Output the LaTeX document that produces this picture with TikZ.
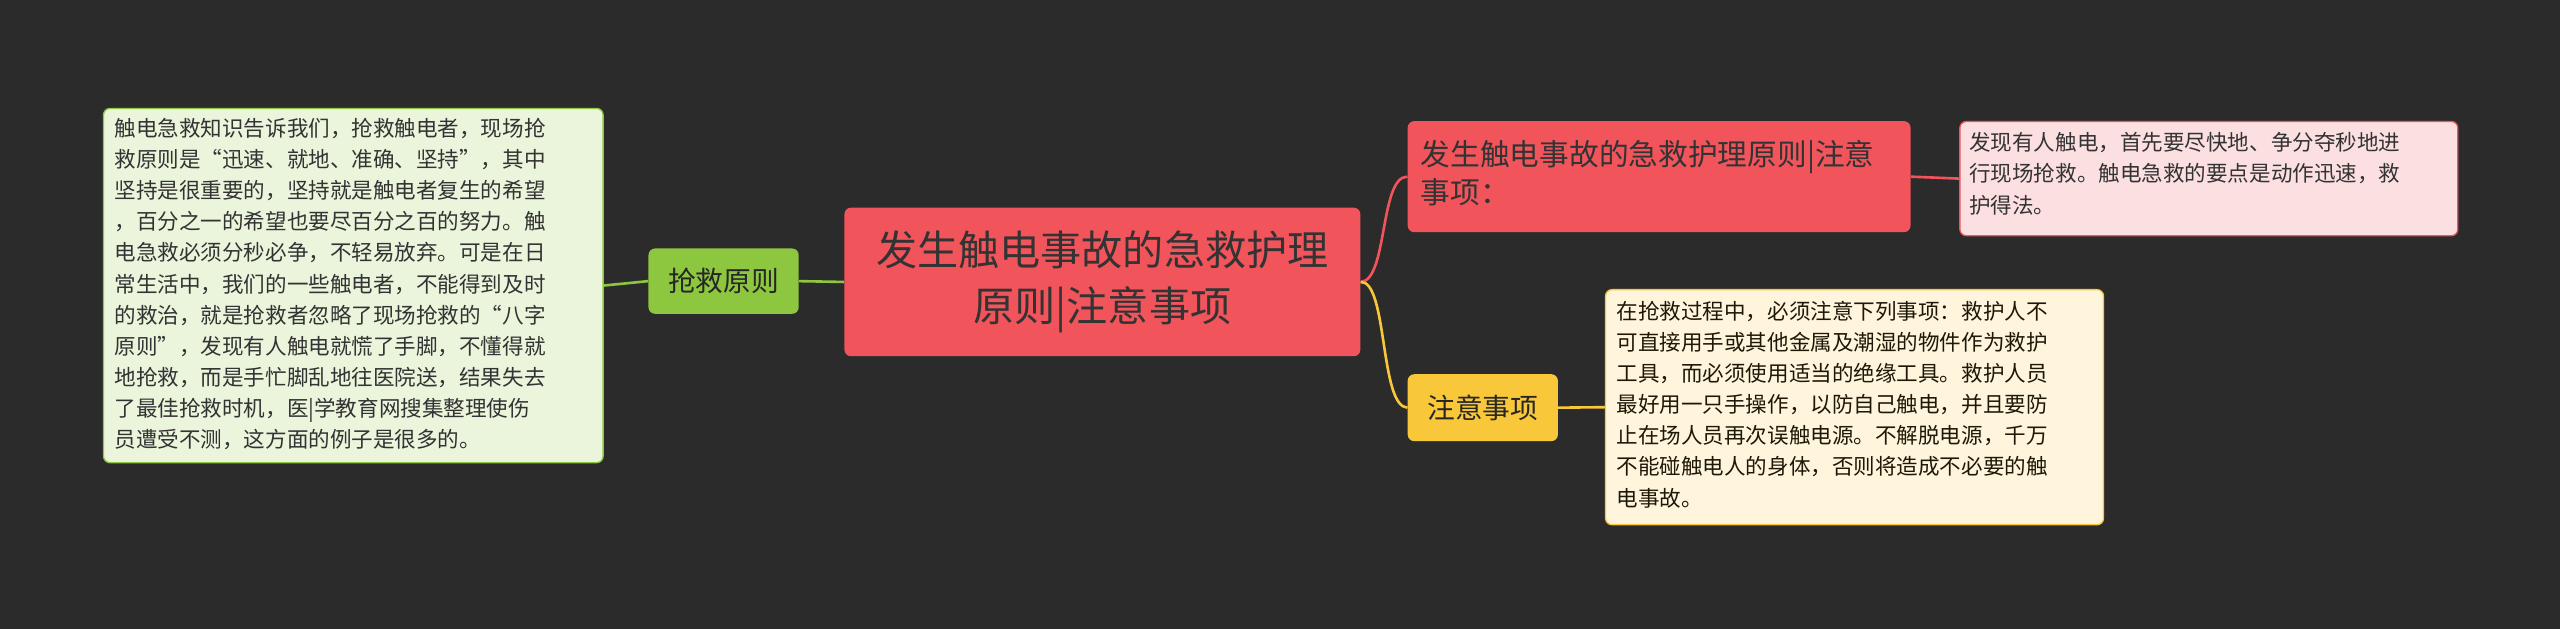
\documentclass[tikz,border=0pt]{standalone}
\usepackage{fontspec}
\setmainfont{Noto Sans CJK SC}
\begin{document}
\begin{tikzpicture}[x=1pt,y=-1pt,
  box/.style={rounded corners=4pt,inner sep=0pt,align=left,anchor=north west},
  txt/.style={font=\fontsize{13.2}{19.1}\selectfont,text=black!80},
  ln/.style={line width=1.6pt}]
\definecolor{bg}{HTML}{2B2B2C}
\definecolor{red1}{HTML}{F1545A}
\definecolor{grn}{HTML}{8DC63F}
\definecolor{ylw}{HTML}{F9C73A}
\fill[bg] (0,0) rectangle (1568,385);
\useasboundingbox (0,0) rectangle (1568,385);
% central
\node[box,fill=red1,minimum width=316pt,minimum height=91pt] (c) at (517,127) {};
\node[align=center,font=\fontsize{25.2}{34}\selectfont,text=black!80] at (c.center) {发生触电事故的急救护理\\原则|注意事项};
% left
\node[box,fill=grn,minimum width=92pt,minimum height=40pt] (l) at (397,152) {};
\node[font=\fontsize{17}{20}\selectfont,text=black!85] at (l.center) {抢救原则};
\node[box,fill=grn!18,draw=grn,line width=0.8pt,minimum width=306pt,minimum height=217pt] (lt) at (63,66) {};
\node[txt,anchor=north west,align=left,inner sep=0pt] at (70,72) {触电急救知识告诉我们，抢救触电者，现场抢\\救原则是“迅速、就地、准确、坚持”，其中\\坚持是很重要的，坚持就是触电者复生的希望\\，百分之一的希望也要尽百分之百的努力。触\\电急救必须分秒必争，不轻易放弃。可是在日\\常生活中，我们的一些触电者，不能得到及时\\的救治，就是抢救者忽略了现场抢救的“八字\\原则”，发现有人触电就慌了手脚，不懂得就\\地抢救，而是手忙脚乱地往医院送，结果失去\\了最佳抢救时机，医|学教育网搜集整理使伤\\员遭受不测，这方面的例子是很多的。};
% right top
\node[box,fill=red1,minimum width=308pt,minimum height=68pt] (r1) at (862,74) {};
\node[anchor=north west,align=left,inner sep=0pt,font=\fontsize{18.2}{23}\selectfont,text=black!80] at (870,86) {发生触电事故的急救护理原则|注意\\事项：};
\node[box,fill=red1!18,draw=red1,line width=0.8pt,minimum width=305pt,minimum height=70pt] (r1t) at (1200,74) {};
\node[txt,anchor=north west,align=left,inner sep=0pt] at (1206,81) {发现有人触电，首先要尽快地、争分夺秒地进\\行现场抢救。触电急救的要点是动作迅速，救\\护得法。};
% right bottom
\node[box,fill=ylw,minimum width=92pt,minimum height=41pt] (r2) at (862,229) {};
\node[font=\fontsize{17}{20}\selectfont,text=black!85] at (r2.center) {注意事项};
\node[box,fill=ylw!18,draw=ylw,line width=0.8pt,minimum width=305pt,minimum height=144pt] (r2t) at (983,177) {};
\node[txt,anchor=north west,align=left,inner sep=0pt,text=black!70!ylw!40!black] at (990,184) {在抢救过程中，必须注意下列事项：救护人不\\可直接用手或其他金属及潮湿的物件作为救护\\工具，而必须使用适当的绝缘工具。救护人员\\最好用一只手操作，以防自己触电，并且要防\\止在场人员再次误触电源。不解脱电源，千万\\不能碰触电人的身体，否则将造成不必要的触\\电事故。};
% connectors
\draw[ln,grn] (c.west) -- (l.east);
\draw[ln,grn] (l.west) -- (lt.east);
\draw[ln,red1] (c.east) .. controls (850,172) and (845,108) .. (r1.west);
\draw[ln,ylw] (c.east) .. controls (850,172) and (845,249) .. (r2.west);
\draw[ln,red1] (r1.east) -- (r1t.west);
\draw[ln,ylw] (r2.east) -- (r2t.west);
\end{tikzpicture}
\end{document}
